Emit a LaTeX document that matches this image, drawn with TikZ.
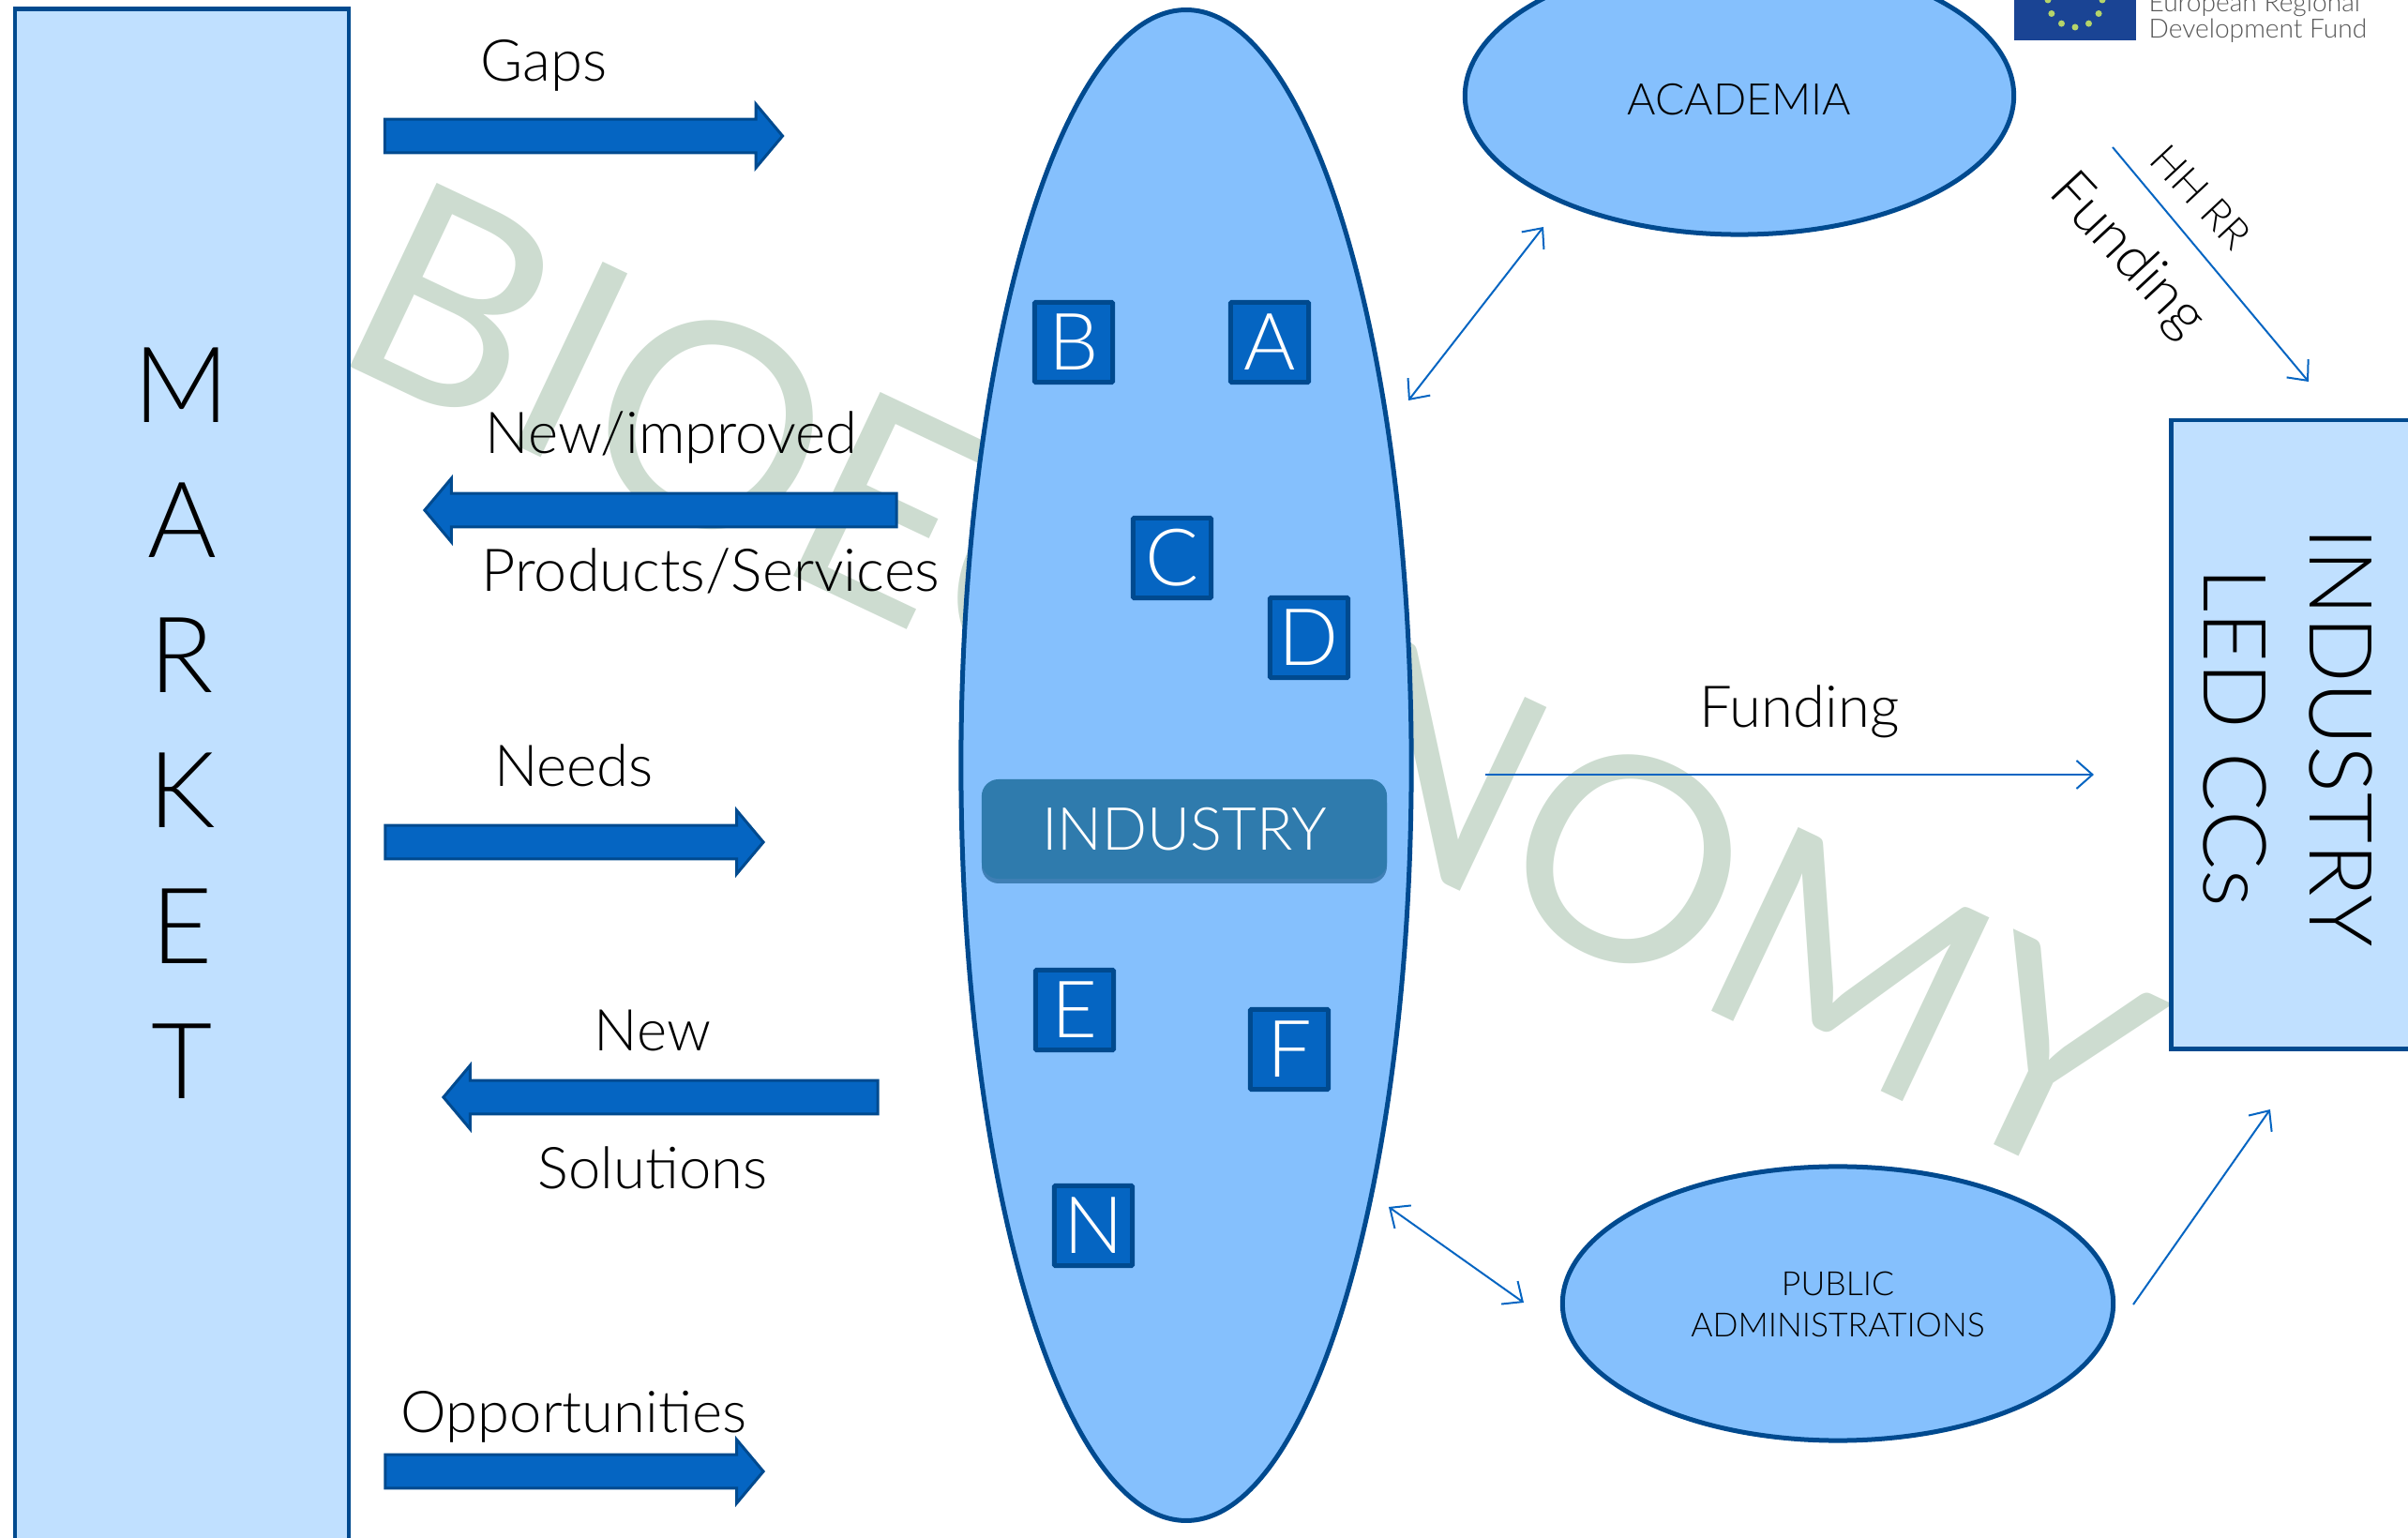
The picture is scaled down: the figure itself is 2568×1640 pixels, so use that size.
\documentclass[tikz,border=0pt]{standalone}
\usepackage{fontspec}
\setmainfont{Lato Light}
\newfontfamily\wmfont{Lato}
\usetikzlibrary{arrows.meta,shapes.geometric,shapes.arrows}
\definecolor{edgeblue}{HTML}{004A8F}
\definecolor{boxpale}{HTML}{C0E0FF}
\definecolor{ovalblue}{HTML}{85C0FD}
\definecolor{deepblue}{HTML}{0565C2}
\definecolor{btnblue}{HTML}{2F7BAD}
\definecolor{btnshade}{HTML}{3F7FB5}
\definecolor{wmgreen}{HTML}{CDDCD0}
\definecolor{eublue}{HTML}{1A4494}
\definecolor{eustar}{HTML}{B5D46A}
\definecolor{eugrey}{HTML}{555555}
\tikzset{
  x=0.01cm,y=-0.01cm,
  panel/.style={draw=edgeblue,line width=0.045cm,fill=boxpale,rectangle,inner sep=0pt,text=black},
  oval/.style={draw=edgeblue,line width=0.05cm,fill=ovalblue,ellipse,inner sep=0pt,text=black},
  tile/.style={draw=edgeblue,line width=0.05cm,fill=deepblue,rectangle,rounded corners=0.01cm,minimum width=0.83cm,minimum height=0.85cm,inner sep=0pt,text=white,font=\fontsize{24}{24}\selectfont},
  blockarrow/.style={single arrow,draw=edgeblue,line width=0.03cm,fill=deepblue,inner sep=0.16cm,minimum width=0.68cm,single arrow head extend=0.16cm,single arrow tip angle=100,single arrow head indent=0pt},
  label/.style={inner sep=0pt,font=\fontsize{17.5}{20}\selectfont,text=black},
  thin link/.style={draw=deepblue,line width=0.02cm,-{Straight Barb[length=0.17cm,width=0.3cm]}},
  both link/.style={draw=deepblue,line width=0.02cm,{Straight Barb[length=0.17cm,width=0.3cm]}-{Straight Barb[length=0.17cm,width=0.3cm]}},
}
\begin{document}
\begin{tikzpicture}
\useasboundingbox (0,0) rectangle (2568,1640);
\node[rotate=-25.3,text=wmgreen,inner sep=0pt,font=\wmfont\fontsize{86}{86}\selectfont] (watermark) at (1333,725) {BIOECONOMY};
% EU logo
\fill[eublue] (2148,0) rectangle (2278,43);
\foreach \a in {0,30,60,90,120,150,180}
  \fill[eustar] (2213,0) ++({29*cos(\a)},{29*sin(\a)}) circle (3.5);
\node[anchor=base west,inner sep=0pt,text=eugrey,font=\fontsize{8}{10}\selectfont] (eua) at (2291,13) {European Regional};
\node[anchor=base west,inner sep=0pt,text=eugrey,font=\fontsize{8}{10}\selectfont] (eub) at (2291,41) {Development Fund};
% main shapes
\node[panel,minimum width=3.56cm,minimum height=16.4cm] (market) at (194,830) {};
\node[inner sep=0pt,align=center,font=\fontsize{32}{41}\selectfont,text=black] (marketlabel) at (194,771) {M\\A\\R\\K\\E\\T};
\node[oval,minimum width=4.8cm,minimum height=16.1cm] (industryoval) at (1265,816) {};
\node[oval,minimum width=5.85cm,minimum height=2.96cm] (academia) at (1855,102) {};
\node[inner sep=0pt,text=black,font=\fontsize{13.2}{16}\selectfont] (academialabel) at (1855,106) {ACADEMIA};
\node[oval,minimum width=5.87cm,minimum height=2.92cm] (public) at (1960,1390) {};
\node[inner sep=0pt,align=center,text=black,font=\fontsize{10.1}{12.5}\selectfont] (publiclabel) at (1960,1391) {PUBLIC\\ADMINISTRATIONS};
\node[panel,anchor=north west,minimum width=2.6cm,minimum height=6.7cm] (ccbox) at (2313,446) {};
\node[rotate=-90,inner sep=0pt,align=center,font=\fontsize{26.5}{32}\selectfont,text=black] (cclabel) at (2440,786) {INDUSTRY\\LED CCs};
\fill[btnshade,rounded corners=0.18cm] (1047,838) rectangle (1479,942);
\node[rectangle,rounded corners=0.18cm,fill=btnblue,minimum width=4.32cm,minimum height=1.06cm,inner sep=0pt,text=white,font=\fontsize{18}{20}\selectfont] (industry) at (1263,884) {INDUSTRY};
\node[tile] (B) at (1145,365) {B};
\node[tile] (A) at (1354,365) {A};
\node[tile] (C) at (1250,595) {C};
\node[tile] (D) at (1396,680) {D};
\node[tile] (E) at (1146,1077) {E};
\node[tile] (F) at (1375,1119) {F};
\node[tile] (N) at (1166,1307) {N};
% block arrows
\node[blockarrow,minimum height=4.24cm] (gapsarrow) at (615,145) {};
\node[blockarrow,minimum height=5.03cm,shape border rotate=180] (prodarrow) at (712,544) {};
\node[blockarrow,minimum height=4.03cm] (needsarrow) at (605,898) {};
\node[blockarrow,minimum height=4.63cm,shape border rotate=180] (newarrow) at (712,1170) {};
\node[blockarrow,minimum height=4.03cm] (opparrow) at (605,1569) {};
% labels
\node[label] (gaps) at (580,70) {Gaps};
\node[label] (newimp) at (716,467) {New/improved};
\node[label,font=\fontsize{17.9}{20}\selectfont] (prods) at (758,609) {Products/Services};
\node[label] (needs) at (612,816) {Needs};
\node[label] (new) at (696,1099) {New};
\node[label] (solutions) at (696,1245) {Solutions};
\node[label] (opps) at (612,1511) {Opportunities};
\node[label] (funding) at (1919,759) {Funding};
\node[label,rotate=-47] (fundingb) at (2268,273) {Funding};
\node[label,rotate=-47,font=\fontsize{12.5}{15}\selectfont] (hhrr) at (2347,210) {HH RR};
% thin connectors
\coordinate (fa) at (1584,826); \coordinate (fb) at (2233,826);
\coordinate (ha) at (2253,157); \coordinate (hb) at (2462,407);
\coordinate (aa) at (1502,427); \coordinate (ab) at (1646,242);
\coordinate (pa) at (1481,1287); \coordinate (pb) at (1625,1389);
\coordinate (ra) at (2275,1391); \coordinate (rb) at (2421,1183);
\draw[thin link] (fa) -- (fb);
\draw[thin link] (ha) -- (hb);
\draw[both link] (aa) -- (ab);
\draw[both link] (pa) -- (pb);
\draw[thin link] (ra) -- (rb);
\end{tikzpicture}
\end{document}
